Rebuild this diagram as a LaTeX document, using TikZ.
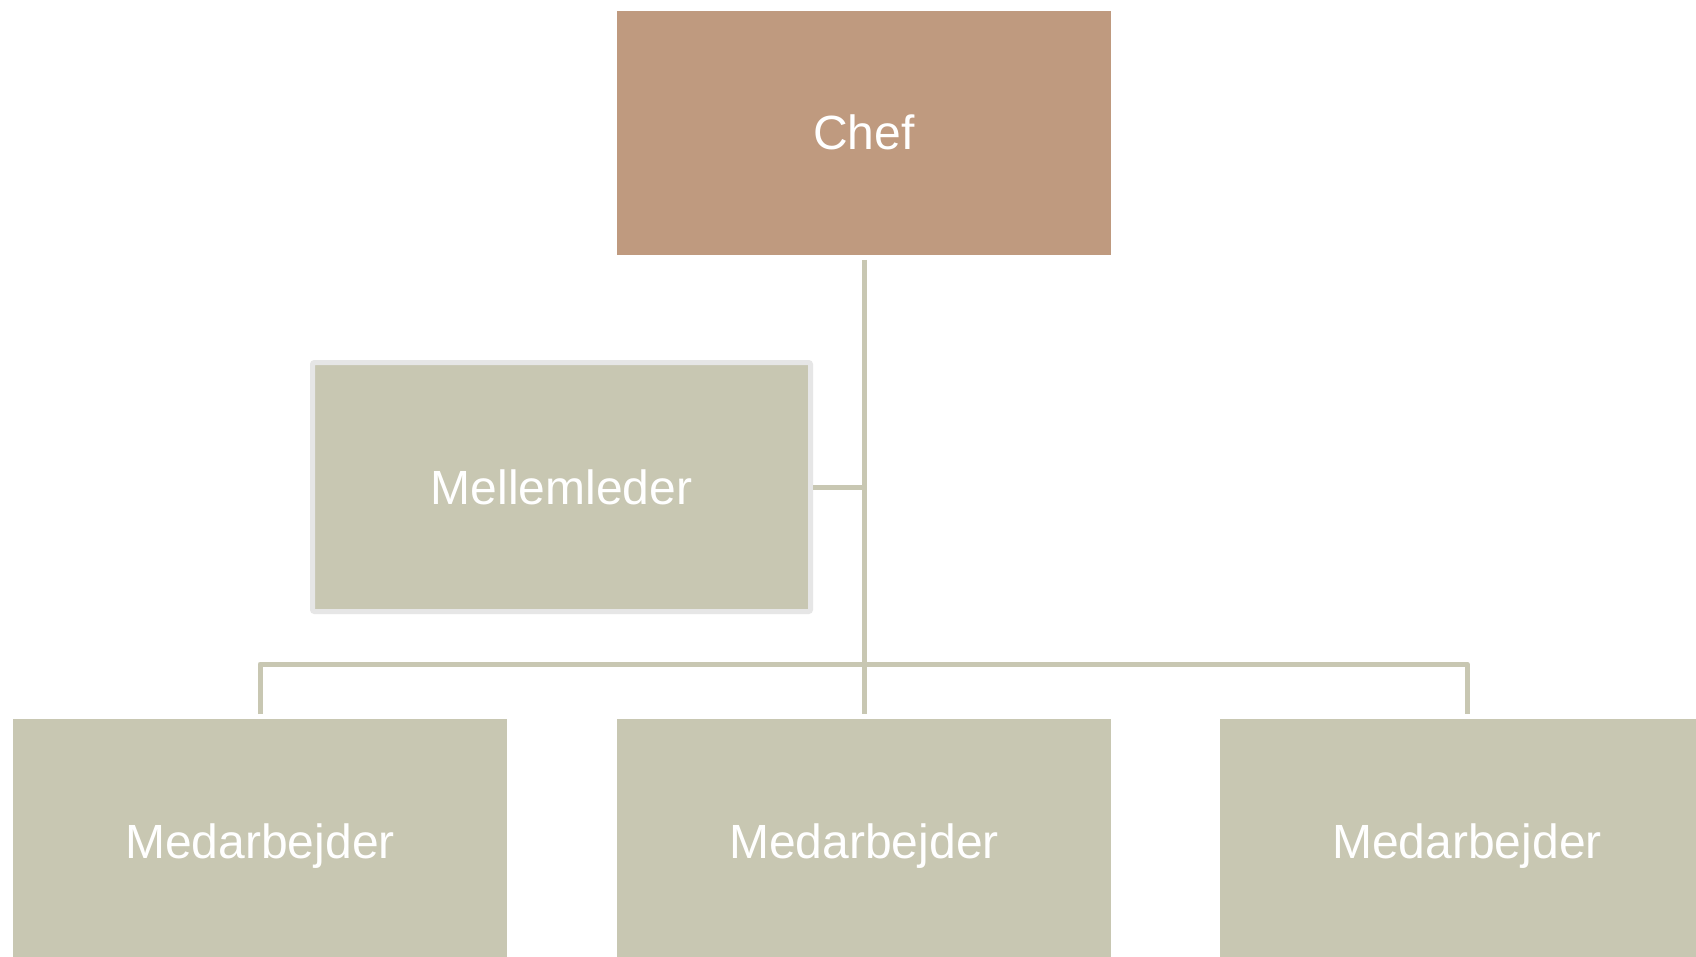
\documentclass[tikz,border=0pt]{standalone}
\usepackage{fontspec}
\setmainfont{Liberation Sans}
\definecolor{boxfill}{HTML}{C8C7B2}
\definecolor{cheffill}{HTML}{BF9A7F}
\definecolor{midborder}{HTML}{E6E6E6}
\begin{document}
\begin{tikzpicture}[x=1pt,y=-1pt,
  orgbox/.style={rectangle,fill=boxfill,minimum width=494pt,minimum height=244pt,inner sep=0pt,outer sep=0pt,
    text=white,font=\fontsize{48}{56}\selectfont,text height=34pt,text depth=0pt},
  chefbox/.style={orgbox,fill=cheffill},
  midbox/.style={orgbox,draw=midborder,line width=5pt,rounded corners=2pt,minimum width=498pt,minimum height=249pt,outer sep=2.5pt},
  link/.style={draw=boxfill,line width=5pt,line join=round}]
\clip (0,0) rectangle (1696,957);
\useasboundingbox (0,0) rectangle (1696,957);
\fill[white] (0,0) rectangle (1696,957);
\node[chefbox] (chef) at (864,133) {Chef};
\node[midbox] (mid) at (561.5,487) {Mellemleder};
\node[orgbox] (m1) at (260,841) {Medarbejder};
\node[orgbox] (m2) at (864,841) {Medarbejder};
\node[orgbox] (m3) at (1467,841) {Medarbejder};
\coordinate (bus) at (864,664);
\path[link] ([yshift=-5pt]chef.south) -- ([yshift=5pt]m2.north);
\path[link] (mid.east) -- (mid.east -| chef.south);
\path[link] ([yshift=5pt]m1.north) |- (bus) -| ([yshift=5pt]m3.north);
\end{tikzpicture}
\end{document}
